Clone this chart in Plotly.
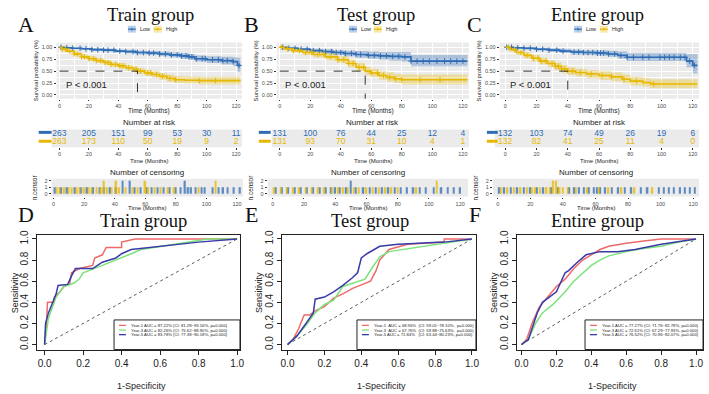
import bisect
import plotly.graph_objects as go

W, H = 709, 394
OFF = 0
FW, FH = W - OFF, H - OFF

# ---------------- DATA ----------------
groups = ["Train group", "Test group", "Entire group"]
km_letters = ["A", "B", "C"]
roc_letters = ["D", "E", "F"]
time_ticks = [0, 20, 40, 60, 80, 100, 120]
end_time = [123, 123, 123]

# Kaplan-Meier step points (time, survival, CI low, CI high)
train_low_t = [0, 3, 8, 15, 22, 30, 38, 45, 52, 60, 68, 75, 82, 88, 92, 100, 110, 118, 121]
train_low_s = [1.0, 0.99, 0.98, 0.97, 0.95, 0.94, 0.92, 0.91, 0.89, 0.88, 0.86, 0.84, 0.82, 0.80, 0.76, 0.74, 0.72, 0.70, 0.62]
train_low_lo = [1.0, 0.98, 0.96, 0.95, 0.92, 0.91, 0.89, 0.87, 0.85, 0.84, 0.81, 0.79, 0.76, 0.74, 0.70, 0.67, 0.64, 0.61, 0.48]
train_low_hi = [1.0, 1.0, 0.99, 0.99, 0.98, 0.97, 0.95, 0.95, 0.93, 0.92, 0.91, 0.89, 0.88, 0.86, 0.83, 0.81, 0.80, 0.79, 0.78]
train_high_t = [0, 2, 5, 10, 15, 20, 25, 30, 35, 40, 45, 50, 53, 58, 63, 68, 73, 78, 85, 95]
train_high_s = [1.0, 0.96, 0.92, 0.86, 0.80, 0.76, 0.72, 0.68, 0.64, 0.61, 0.57, 0.54, 0.50, 0.46, 0.43, 0.39, 0.35, 0.32, 0.31, 0.30]
train_high_lo = [1.0, 0.94, 0.89, 0.82, 0.76, 0.71, 0.67, 0.63, 0.59, 0.55, 0.51, 0.48, 0.44, 0.40, 0.36, 0.32, 0.28, 0.25, 0.24, 0.22]
train_high_hi = [1.0, 0.98, 0.95, 0.90, 0.85, 0.81, 0.77, 0.73, 0.69, 0.67, 0.63, 0.60, 0.56, 0.53, 0.50, 0.46, 0.43, 0.40, 0.39, 0.38]

test_low_t = [0, 5, 12, 20, 28, 35, 42, 50, 58, 65, 72, 80, 86]
test_low_s = [1.0, 0.98, 0.96, 0.93, 0.91, 0.89, 0.87, 0.85, 0.83, 0.82, 0.81, 0.80, 0.71]
test_low_lo = [1.0, 0.96, 0.93, 0.89, 0.86, 0.84, 0.81, 0.78, 0.76, 0.74, 0.72, 0.70, 0.60]
test_low_hi = [1.0, 1.0, 0.99, 0.97, 0.96, 0.94, 0.93, 0.92, 0.91, 0.90, 0.90, 0.90, 0.84]
test_high_t = [0, 3, 8, 15, 22, 30, 38, 45, 50, 56, 60, 65, 70, 75, 80]
test_high_s = [1.0, 0.97, 0.93, 0.89, 0.85, 0.80, 0.74, 0.66, 0.58, 0.50, 0.46, 0.41, 0.37, 0.34, 0.32]
test_high_lo = [1.0, 0.94, 0.89, 0.84, 0.79, 0.73, 0.67, 0.58, 0.50, 0.42, 0.37, 0.32, 0.28, 0.25, 0.22]
test_high_hi = [1.0, 1.0, 0.97, 0.94, 0.91, 0.87, 0.81, 0.74, 0.67, 0.59, 0.55, 0.50, 0.47, 0.44, 0.43]

ent_low_t = [0, 5, 12, 20, 28, 35, 42, 50, 58, 66, 72, 78, 116, 120]
ent_low_s = [1.0, 0.99, 0.98, 0.96, 0.94, 0.92, 0.90, 0.89, 0.88, 0.86, 0.83, 0.79, 0.71, 0.62]
ent_low_lo = [1.0, 0.97, 0.95, 0.93, 0.90, 0.88, 0.85, 0.84, 0.82, 0.80, 0.76, 0.71, 0.58, 0.45]
ent_low_hi = [1.0, 1.0, 1.0, 0.99, 0.98, 0.97, 0.95, 0.94, 0.94, 0.93, 0.91, 0.88, 0.86, 0.86]
ent_high_t = [0, 3, 7, 12, 17, 22, 27, 32, 36, 40, 45, 52, 60, 68, 75, 80, 88, 93]
ent_high_s = [1.0, 0.95, 0.89, 0.83, 0.77, 0.71, 0.66, 0.60, 0.55, 0.50, 0.47, 0.44, 0.41, 0.38, 0.33, 0.29, 0.26, 0.23]
ent_high_lo = [1.0, 0.91, 0.84, 0.77, 0.70, 0.64, 0.58, 0.52, 0.47, 0.42, 0.39, 0.35, 0.32, 0.29, 0.24, 0.20, 0.17, 0.14]
ent_high_hi = [1.0, 0.99, 0.94, 0.89, 0.84, 0.78, 0.73, 0.68, 0.63, 0.58, 0.55, 0.52, 0.50, 0.47, 0.43, 0.38, 0.35, 0.33]

# Number at risk
train_risk_low = [263, 205, 151, 99, 53, 30, 11]
train_risk_high = [263, 173, 110, 50, 19, 9, 2]
test_risk_low = [131, 100, 76, 44, 25, 12, 4]
test_risk_high = [131, 93, 70, 31, 10, 4, 1]
ent_risk_low = [132, 103, 74, 49, 26, 19, 6]
ent_risk_high = [132, 82, 41, 25, 11, 4, 0]

# Censoring times and counts
train_cens_low_t = [1, 5, 9, 14, 18, 22, 26, 30, 33, 37, 41, 45, 50, 53, 57, 61, 64, 68, 72, 76, 80, 83, 86, 88, 90, 93, 97, 99, 104, 108, 111, 114, 118, 122]
train_cens_low_n = [1, 1, 1, 1, 1, 1, 1, 1, 1, 1, 1, 2, 2, 1, 1, 1, 1, 1, 1, 1, 1, 1, 2, 1, 1, 1, 1, 1, 1, 1, 1, 1, 1, 1]
train_cens_high_t = [2, 4, 7, 10, 12, 15, 17, 20, 23, 25, 28, 31, 33, 35, 38, 41, 43, 47, 52, 55, 60, 62, 66, 70, 75, 79, 95, 106]
train_cens_high_n = [1, 1, 1, 1, 1, 1, 1, 1, 1, 1, 1, 1, 2, 1, 1, 2, 1, 1, 1, 1, 2, 1, 1, 1, 1, 1, 1, 2]
test_cens_low_t = [2, 6, 10, 14, 18, 22, 26, 30, 34, 37, 40, 43, 47, 50, 53, 58, 62, 66, 70, 74, 78, 82, 86, 90, 94, 98, 103, 108, 112, 116, 120]
test_cens_low_n = [1, 1, 1, 1, 1, 1, 1, 1, 1, 1, 1, 1, 1, 2, 1, 1, 1, 1, 1, 1, 1, 1, 1, 1, 1, 1, 1, 1, 1, 1, 1]
test_cens_high_t = [1, 5, 9, 13, 17, 21, 25, 29, 33, 38, 42, 45, 48, 52, 55, 60, 64, 68, 72, 76, 80, 92, 105]
test_cens_high_n = [1, 1, 1, 1, 1, 1, 1, 1, 1, 1, 1, 1, 1, 1, 1, 1, 1, 1, 1, 1, 1, 1, 2]
ent_cens_low_t = [1, 4, 8, 12, 16, 20, 24, 28, 33, 37, 44, 47, 50, 53, 56, 59, 61, 63, 66, 70, 74, 78, 82, 88, 92, 99, 102, 105, 108, 112, 115, 118, 121]
ent_cens_low_n = [1] * 33
ent_cens_high_t = [2, 6, 10, 14, 18, 21, 23, 26, 30, 32, 34, 36, 38, 40, 43, 48, 55, 62, 68, 76, 84, 95]
ent_cens_high_n = [1, 1, 1, 1, 1, 1, 1, 1, 1, 1, 2, 2, 1, 1, 1, 1, 1, 1, 1, 1, 1, 1]

# ROC curves (1-specificity, sensitivity)
roc_train_1_x = [0, 0.005, 0.01, 0.015, 0.05, 0.05, 0.08, 0.1, 0.13, 0.14, 0.18, 0.25, 0.26, 0.3, 0.32, 0.4, 0.4, 0.47, 1.0]
roc_train_1_y = [0, 0.1, 0.2, 0.4, 0.4, 0.45, 0.5, 0.55, 0.57, 0.68, 0.72, 0.75, 0.82, 0.85, 0.92, 0.92, 0.97, 1.0, 1.0]
roc_train_3_x = [0, 0.01, 0.02, 0.04, 0.06, 0.1, 0.13, 0.15, 0.18, 0.2, 0.3, 0.4, 0.45, 0.5, 0.6, 0.7, 0.85, 1.0]
roc_train_3_y = [0, 0.15, 0.25, 0.35, 0.45, 0.55, 0.57, 0.58, 0.62, 0.68, 0.75, 0.82, 0.86, 0.9, 0.93, 0.96, 1.0, 1.0]
roc_train_5_x = [0, 0.005, 0.02, 0.04, 0.06, 0.07, 0.12, 0.14, 0.16, 0.25, 0.3, 0.37, 0.4, 0.45, 0.6, 0.8, 1.0]
roc_train_5_y = [0, 0.2, 0.3, 0.4, 0.48, 0.56, 0.57, 0.65, 0.72, 0.72, 0.78, 0.82, 0.86, 0.9, 0.93, 0.97, 1.0]

roc_test_1_x = [0, 0.03, 0.06, 0.09, 0.12, 0.15, 0.2, 0.25, 0.3, 0.35, 0.45, 0.48, 0.5, 0.55, 0.65, 0.85, 0.85, 1.0]
roc_test_1_y = [0, 0.05, 0.15, 0.28, 0.28, 0.32, 0.36, 0.44, 0.48, 0.53, 0.6, 0.7, 0.8, 0.9, 0.95, 0.97, 1.0, 1.0]
roc_test_3_x = [0, 0.05, 0.1, 0.15, 0.2, 0.25, 0.3, 0.38, 0.42, 0.46, 0.5, 0.55, 0.7, 0.85, 1.0]
roc_test_3_y = [0, 0.08, 0.18, 0.3, 0.38, 0.42, 0.55, 0.6, 0.62, 0.73, 0.83, 0.88, 0.92, 0.96, 1.0]
roc_test_5_x = [0, 0.05, 0.1, 0.14, 0.15, 0.2, 0.25, 0.3, 0.35, 0.38, 0.4, 0.43, 0.5, 0.6, 0.85, 1.0]
roc_test_5_y = [0, 0.08, 0.2, 0.3, 0.43, 0.45, 0.5, 0.56, 0.63, 0.68, 0.82, 0.86, 0.93, 0.95, 0.97, 1.0]

roc_ent_1_x = [0, 0.03, 0.06, 0.1, 0.15, 0.2, 0.25, 0.3, 0.35, 0.4, 0.45, 0.5, 0.6, 0.7, 0.8, 1.0]
roc_ent_1_y = [0, 0.05, 0.2, 0.35, 0.45, 0.55, 0.62, 0.72, 0.8, 0.85, 0.9, 0.93, 0.96, 0.98, 1.0, 1.0]
roc_ent_3_x = [0, 0.04, 0.08, 0.12, 0.18, 0.25, 0.3, 0.35, 0.4, 0.45, 0.5, 0.6, 0.7, 0.8, 0.9, 1.0]
roc_ent_3_y = [0, 0.05, 0.2, 0.3, 0.38, 0.5, 0.6, 0.68, 0.75, 0.8, 0.84, 0.88, 0.91, 0.93, 0.97, 1.0]
roc_ent_5_x = [0, 0.04, 0.07, 0.09, 0.12, 0.2, 0.25, 0.27, 0.32, 0.37, 0.45, 0.55, 0.65, 0.8, 1.0]
roc_ent_5_y = [0, 0.05, 0.2, 0.3, 0.4, 0.5, 0.68, 0.7, 0.78, 0.85, 0.88, 0.88, 0.9, 0.95, 1.0]

roc_legend_train = ["Year-1 AUC = 87.22% (CI: 81.28~93.16%, p=0.000)",
                    "Year-3 AUC = 82.26% (CI: 75.62~88.90%, p=0.000)",
                    "Year-5 AUC = 83.78% (CI: 77.38~90.18%, p=0.000)"]
roc_legend_test = ["Year-1  AUC = 68.55%  (CI: 59.01~78.10%,  p=0.000)",
                   "Year-3  AUC = 67.76%  (CI: 59.88~75.63%,  p=0.000)",
                   "Year-5 AUC = 71.84%   (CI: 63.44~80.23%, p=0.000)"]
roc_legend_ent = ["Year-1 AUC = 77.27% (CI: 71.76~82.78%, p=0.000)",
                  "Year-3 AUC = 72.61% (CI: 67.29~77.93%, p=0.000)",
                  "Year-5 AUC = 76.52% (CI: 70.96~82.07%, p=0.000)"]
roc_ticks = [0.0, 0.2, 0.4, 0.6, 0.8, 1.0]

# ---------------- STYLE ----------------
BLUE = "#2F6DB5"
YEL = "#E7B800"
BLUE_F = "rgba(47,109,181,0.33)"
YEL_F = "rgba(231,184,0,0.33)"
GRAY = "#EBEBEB"
TXT = "#4D4D4D"
ROC_COLS = ["#EE6A6A", "#7CE27C", "#3A3AA8"]
SANS = "Liberation Sans, Arial, sans-serif"
SERIF = "Liberation Serif, Times New Roman, serif"

km_data = [
    (train_low_t, train_low_s, train_low_lo, train_low_hi, train_high_t, train_high_s, train_high_lo, train_high_hi),
    (test_low_t, test_low_s, test_low_lo, test_low_hi, test_high_t, test_high_s, test_high_lo, test_high_hi),
    (ent_low_t, ent_low_s, ent_low_lo, ent_low_hi, ent_high_t, ent_high_s, ent_high_lo, ent_high_hi),
]
risk_data = [(train_risk_low, train_risk_high), (test_risk_low, test_risk_high), (ent_risk_low, ent_risk_high)]
cens_data = [
    (train_cens_low_t, train_cens_low_n, train_cens_high_t, train_cens_high_n),
    (test_cens_low_t, test_cens_low_n, test_cens_high_t, test_cens_high_n),
    (ent_cens_low_t, ent_cens_low_n, ent_cens_high_t, ent_cens_high_n),
]
roc_data = [
    [(roc_train_1_x, roc_train_1_y), (roc_train_3_x, roc_train_3_y), (roc_train_5_x, roc_train_5_y)],
    [(roc_test_1_x, roc_test_1_y), (roc_test_3_x, roc_test_3_y), (roc_test_5_x, roc_test_5_y)],
    [(roc_ent_1_x, roc_ent_1_y), (roc_ent_3_x, roc_ent_3_y), (roc_ent_5_x, roc_ent_5_y)],
]
roc_legends = [roc_legend_train, roc_legend_test, roc_legend_ent]

# layout geometry in (window) pixels
km_px = [(55, 242), (277, 471), (502, 703)]
km_y = (38, 95)
risk_y = (126, 144)
risk_pad = 5
cens_px = [(50, 243), (268, 470), (495, 703)]
cens_y = (176, 194)
cens_rng = [(-1.3, 123.9), (-3.2, 125), (-3.0, 123.6)]
km_rng = [(-2, 124), (-2, 124), (-3.5, 124)]
roc_px = [(35, 240), (282, 478), (519, 707)]
roc_y = (233, 349)
roc_xrng = [(-0.041, 1.015), (-0.032, 1.0215), (-0.028, 1.04)]
roc_yrng = (-0.047, 1.037)

title_x = [150, 377, 601]
roc_title_x = [143, 371, 601]
letter_x = [24, 252, 477]
legend_key_x = [(127, 153), (350, 375), (577, 603)]
risk_key_x = [(37, 50), (259, 271), (489, 500)]
pval_x = [63, 283, 510]
roc_leg_px = [(113, 240), (358, 478), (588, 707)]


def fx(x):
    return (x - OFF) / FW


def fy(y):
    return 1 - (y - OFF) / FH


def xid(n):
    return "x" if n == 1 else f"x{n}"


def yid(n):
    return "y" if n == 1 else f"y{n}"


def xkey(n):
    return "xaxis" if n == 1 else f"xaxis{n}"


def ykey(n):
    return "yaxis" if n == 1 else f"yaxis{n}"


fig = go.Figure()
layout = {}
shapes = []
annotations = []


def ann(text, x, y, size, color=TXT, family=SANS, xanchor="center", angle=0, yanchor="middle"):
    annotations.append(dict(text=text, x=fx(x), y=fy(y), xref="paper", yref="paper",
                            showarrow=False, xanchor=xanchor, yanchor=yanchor, textangle=angle,
                            font=dict(size=size, color=color, family=family)))


def gray_bg(ax):
    shapes.append(dict(type="rect", xref=f"{xid(ax)} domain", yref=f"{yid(ax)} domain", x0=0, x1=1, y0=0, y1=1,
                       fillcolor=GRAY, line=dict(width=0), layer="below"))


def step_value(ts, ss, t):
    i = bisect.bisect_right(ts, t) - 1
    return ss[max(i, 0)]


for g in range(3):
    # ---------- KM ----------
    ax = g + 1
    X, Y = xid(ax), yid(ax)
    xa, xb = km_px[g]
    tl, sl, lol, hil, th, sh, loh, hih = km_data[g]
    layout[xkey(ax)] = dict(domain=[fx(xa), fx(xb)], range=list(km_rng[g]), anchor=Y,
                            tickvals=time_ticks, ticks="outside", ticklen=1.5, tickcolor="#333",
                            tickfont=dict(size=5.5, color=TXT, family=SANS),
                            showgrid=True, gridcolor="white", gridwidth=1, zeroline=False,
                            minor=dict(dtick=10, showgrid=True, gridcolor="white", gridwidth=0.5, tick0=0))
    layout[ykey(ax)] = dict(domain=[fy(km_y[1]), fy(km_y[0])], range=[-0.08, 1.1], anchor=X,
                            tickvals=[0, 0.25, 0.5, 0.75, 1.0], ticktext=["0.00", "0.25", "0.50", "0.75", "1.00"],
                            ticks="outside", ticklen=2, tickcolor="#333",
                            tickfont=dict(size=5.5, color=TXT, family=SANS),
                            showgrid=True, gridcolor="white", gridwidth=1, zeroline=False,
                            minor=dict(dtick=0.125, tick0=0, showgrid=True, gridcolor="white", gridwidth=0.5))
    gray_bg(ax)
    E = end_time[g]
    for ts, ss, lo, hi, col, fcol, ct, cn in [(tl, sl, lol, hil, BLUE, BLUE_F, cens_data[g][0], cens_data[g][1]),
                                              (th, sh, loh, hih, YEL, YEL_F, cens_data[g][2], cens_data[g][3])]:
        fig.add_trace(go.Scatter(x=ts + [E], y=lo + [lo[-1]], mode="lines", line=dict(width=0, shape="hv"),
                                 xaxis=X, yaxis=Y, showlegend=False, hoverinfo="skip"))
        fig.add_trace(go.Scatter(x=ts + [E], y=hi + [hi[-1]], mode="lines", line=dict(width=0, shape="hv"),
                                 fill="tonexty", fillcolor=fcol,
                                 xaxis=X, yaxis=Y, showlegend=False, hoverinfo="skip"))
        fig.add_trace(go.Scatter(x=ts + [E], y=ss + [ss[-1]], mode="lines", line=dict(width=1.6, color=col, shape="hv"),
                                 xaxis=X, yaxis=Y, showlegend=False))
        cx = [c for c in ct if c <= E]
        cy = [step_value(ts, ss, c) for c in cx]
        fig.add_trace(go.Scatter(x=cx, y=cy, mode="markers",
                                 marker=dict(symbol="cross-thin", size=4, line=dict(width=1, color=col)),
                                 xaxis=X, yaxis=Y, showlegend=False))
    med = next(t for t, s in zip(th, sh) if s <= 0.5)
    fig.add_trace(go.Scatter(x=[0, med, med], y=[0.5, 0.5, -0.08], mode="lines",
                             line=dict(color="black", width=0.8, dash="dash"),
                             xaxis=X, yaxis=Y, showlegend=False))
    ann("P < 0.001", pval_x[g], 81, 9.5, color="#222", xanchor="left")
    ann("Time (Months)", (xa + xb) / 2, 107.5, 6.5, color="#222")
    ann("Survival probability (%)", xa - 21, (km_y[0] + km_y[1]) / 2, 6, color="#222", angle=-90)
    ann(groups[g], title_x[g], 10, 18.5, color="#111", family=SERIF)
    ann(km_letters[g], letter_x[g], 20, 22, color="#111", family=SERIF)
    for kx, col, fcol, lab in [(legend_key_x[g][0], BLUE, BLUE_F, "Low"), (legend_key_x[g][1], YEL, YEL_F, "High")]:
        shapes.append(dict(type="rect", xref="paper", yref="paper", x0=fx(kx), x1=fx(kx + 8), y0=fy(28), y1=fy(21),
                           fillcolor=fcol, line=dict(width=0)))
        shapes.append(dict(type="line", xref="paper", yref="paper", x0=fx(kx), x1=fx(kx + 8), y0=fy(24.5), y1=fy(24.5),
                           line=dict(color=col, width=1.2)))
        shapes.append(dict(type="line", xref="paper", yref="paper", x0=fx(kx + 4), x1=fx(kx + 4), y0=fy(23), y1=fy(26),
                           line=dict(color=col, width=1)))
        ann(lab, kx + 10, 24.5, 5.5, color="#222", xanchor="left")

    # ---------- risk table ----------
    ax = g + 4
    X, Y = xid(ax), yid(ax)
    rl, rh = risk_data[g]
    ppm = (xb - xa) / (km_rng[g][1] - km_rng[g][0])
    layout[xkey(ax)] = dict(domain=[fx(xa - risk_pad), fx(xb)], range=[km_rng[g][0] - risk_pad / ppm, km_rng[g][1]],
                            anchor=Y, tickvals=time_ticks, ticks="outside", ticklen=1.5, tickcolor="#333",
                            tickfont=dict(size=5.5, color=TXT, family=SANS), showgrid=False, zeroline=False)
    layout[ykey(ax)] = dict(domain=[fy(risk_y[1]), fy(risk_y[0])], range=[0.4, 2.6], anchor=X,
                            showticklabels=False, ticks="", showgrid=False, zeroline=False)
    gray_bg(ax)
    fig.add_trace(go.Scatter(x=time_ticks, y=[2] * 7, mode="text", text=[str(v) for v in rl], cliponaxis=False,
                             textfont=dict(size=8.5, color=BLUE, family=SANS),
                             xaxis=X, yaxis=Y, showlegend=False))
    fig.add_trace(go.Scatter(x=time_ticks, y=[1] * 7, mode="text", text=[str(v) for v in rh], cliponaxis=False,
                             textfont=dict(size=8.5, color=YEL, family=SANS),
                             xaxis=X, yaxis=Y, showlegend=False))
    k0, k1 = risk_key_x[g]
    shapes.append(dict(type="line", xref="paper", yref="paper", x0=fx(k0), x1=fx(k1), y0=fy(129), y1=fy(129),
                       line=dict(color=BLUE, width=3), layer="below"))
    shapes.append(dict(type="line", xref="paper", yref="paper", x0=fx(k0), x1=fx(k1), y0=fy(138), y1=fy(138),
                       line=dict(color=YEL, width=3), layer="below"))
    ann("Number at risk", (xa + xb) / 2, 119, 8, color="#222")
    ann("Time (Months)", (xa + xb) / 2, 157.5, 6, color="#222")

    # ---------- censoring ----------
    ax = g + 7
    X, Y = xid(ax), yid(ax)
    ca, cb = cens_px[g]
    clt, cln, cht, chn = cens_data[g]
    layout[xkey(ax)] = dict(domain=[fx(ca), fx(cb)], range=list(cens_rng[g]), anchor=Y,
                            tickvals=time_ticks, ticks="outside", ticklen=1.5, tickcolor="#333",
                            tickfont=dict(size=5.5, color=TXT, family=SANS), showgrid=False, zeroline=False)
    layout[ykey(ax)] = dict(domain=[fy(cens_y[1]), fy(cens_y[0])], range=[-0.43, 2.29], anchor=X,
                            tickvals=[0, 1, 2], ticks="outside", ticklen=2, tickcolor="#333",
                            tickfont=dict(size=5.5, color=TXT, family=SANS), showgrid=False, zeroline=False)
    gray_bg(ax)
    fig.add_trace(go.Bar(x=clt, y=cln, width=1.0, marker=dict(color=BLUE, line=dict(width=0)), opacity=0.75,
                         xaxis=X, yaxis=Y, showlegend=False))
    fig.add_trace(go.Bar(x=cht, y=chn, width=1.0, marker=dict(color=YEL, line=dict(width=0)), opacity=0.75,
                         xaxis=X, yaxis=Y, showlegend=False))
    ann("Number of censoring", (ca + cb) / 2, 170, 8, color="#222")
    ann("Time (Months)", (ca + cb) / 2, 205.5, 6, color="#222")
    ann("n.censor", ca - 17, (cens_y[0] + cens_y[1]) / 2, 6.5, color="#222", angle=-90)

    # ---------- ROC ----------
    ax = g + 10
    X, Y = xid(ax), yid(ax)
    ra, rb = roc_px[g]
    layout[xkey(ax)] = dict(domain=[fx(ra), fx(rb)], range=list(roc_xrng[g]), anchor=Y,
                            tickvals=roc_ticks, ticktext=["0.0", "0.2", "0.4", "0.6", "0.8", "1.0"],
                            ticks="outside", ticklen=4, tickcolor="#222",
                            tickfont=dict(size=10, color="#222", family=SANS),
                            showline=True, linecolor="#222", linewidth=1, mirror=True,
                            showgrid=False, zeroline=False)
    layout[ykey(ax)] = dict(domain=[fy(roc_y[1]), fy(roc_y[0])], range=list(roc_yrng), anchor=X,
                            tickvals=roc_ticks, ticktext=["0.0", "0.2", "0.4", "0.6", "0.8", "1.0"],
                            ticks="outside", ticklen=4, tickcolor="#222", tickangle=-90,
                            tickfont=dict(size=10, color="#222", family=SANS),
                            showline=True, linecolor="#222", linewidth=1, mirror=True,
                            showgrid=False, zeroline=False)
    fig.add_trace(go.Scatter(x=[0, 1], y=[0, 1], mode="lines", line=dict(color="#333", width=0.8, dash="dot"),
                             xaxis=X, yaxis=Y, showlegend=False))
    for (rx, ry), col in zip(roc_data[g], ROC_COLS):
        fig.add_trace(go.Scatter(x=rx, y=ry, mode="lines", line=dict(color=col, width=1.5),
                                 xaxis=X, yaxis=Y, showlegend=False))
    ann(groups[g], roc_title_x[g], 219, 18.5, color="#111", family=SERIF)
    ann(roc_letters[g], letter_x[g], 212, 22, color="#111", family=SERIF)
    ann("Sensitivity", ra - 22, (roc_y[0] + roc_y[1]) / 2, 9, color="#222", angle=-90)
    ann("1-Specificity", (ra + rb) / 2 + 3, 386, 9, color="#222")
    la, lb = roc_leg_px[g]
    shapes.append(dict(type="rect", xref="paper", yref="paper", x0=fx(la), x1=fx(lb), y0=fy(349), y1=fy(319),
                       fillcolor="white", line=dict(color="#222", width=1)))
    for i, (txt, col) in enumerate(zip(roc_legends[g], ROC_COLS)):
        yy = 324.5 + i * 4.7
        shapes.append(dict(type="line", xref="paper", yref="paper", x0=fx(la + 5), x1=fx(la + 12),
                           y0=fy(yy), y1=fy(yy), line=dict(color=col, width=1.3)))
        ann(txt, la + 15, yy, 4.2, color="#222", xanchor="left")

layout.update(dict(width=FW, height=FH, margin=dict(l=0, r=0, t=0, b=0), autosize=False,
                   paper_bgcolor="white", plot_bgcolor="rgba(0,0,0,0)", barmode="overlay",
                   showlegend=False, shapes=shapes, annotations=annotations))
fig.update_layout(**layout)
fig.write_html("out.html", config={"displayModeBar": False},
               post_script="document.body.style.margin='0px';document.body.style.padding='0px';")
